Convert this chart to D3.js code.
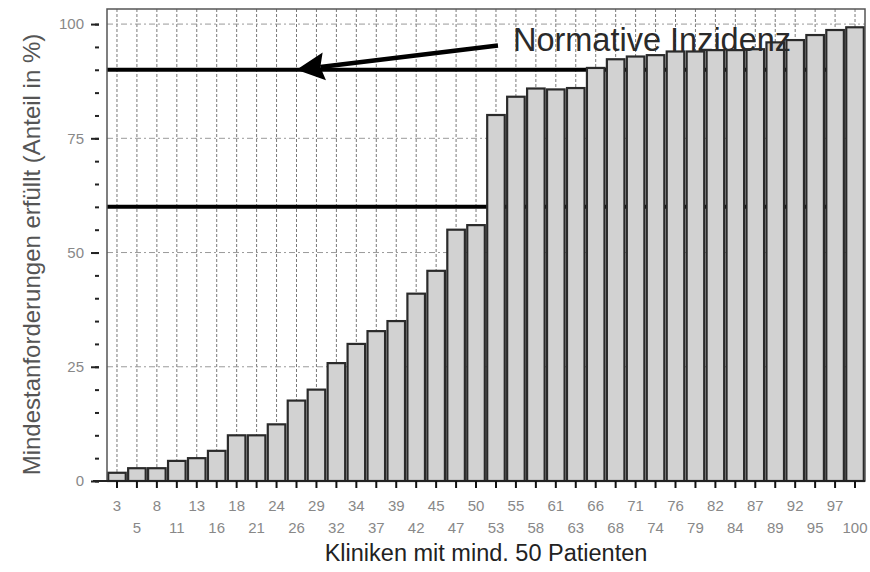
<!DOCTYPE html>
<html>
<head>
<meta charset="utf-8">
<script src="https://cdn.jsdelivr.net/npm/d3@7"></script>
<style>
  body { margin: 0; background: #fff; }
  svg { display: block; font-family: "Liberation Sans", Arial, sans-serif; }
</style>
</head>
<body>
<div id="chart"></div>
<script>
// Anteil der Kliniken, die die Mindestanforderungen erfuellen
let labels = ["3","5","8","11","13","16","18","21","24","26","29","32","34","37","39","42","45","47","50",
              "53","55","58","61","63","66","68","71","74","76","79","82","84","87","89","92","95","97","100"];
let values = [1.8, 2.8, 2.8, 4.4, 5.0, 6.6, 10, 10, 12.4, 17.6, 20, 25.8, 30, 32.8, 35, 41, 46, 55, 56,
              80.1, 84.1, 85.9, 85.7, 86, 90.4, 92.3, 92.9, 93.2, 94, 94, 94.3, 94.3, 94.5, 96, 96.5, 97.6, 98.7, 99.3];
let majorTicks = [0, 25, 50, 75, 100];
let minorTicks = d3.range(0, 101, 5);
let refLines = [90, 60];
let annotation = "Normative Inzidenz";

let width = 870, height = 572;
let margin = { top: 9, right: 5, bottom: 91, left: 107 };

let svg = d3.select("#chart").append("svg")
    .attr("width", width)
    .attr("height", height);

let x = d3.scaleBand()
    .domain(labels)
    .range([margin.left, width - margin.right])
    .paddingInner(0.12)
    .paddingOuter(0.06);

let y = d3.scaleLinear()
    .domain([0, 103.3])
    .range([height - margin.bottom, margin.top]);

let plotBottom = y(0);
let plotTop = y.range()[1];
let cx = function (l) { return x(l) + x.bandwidth() / 2; };

// gridlines
svg.append("g").selectAll()
    .data(labels)
    .enter()
    .append("line")
    .attr("x1", cx).attr("x2", cx)
    .attr("y1", plotTop).attr("y2", plotBottom)
    .style("stroke", "#7a7a7a")
    .style("stroke-width", 1)
    .style("stroke-dasharray", "3,2")
;
svg.append("g").selectAll()
    .data(majorTicks.slice(1))
    .enter()
    .append("line")
    .attr("x1", margin.left).attr("x2", width - margin.right)
    .attr("y1", d => y(d)).attr("y2", d => y(d))
    .style("stroke", "#9a9a9a")
    .style("stroke-width", 1)
    .style("stroke-dasharray", "6,3,2,3")
;

// reference lines (behind the bars)
let lineEnd = x(labels[36]);
svg.append("g").selectAll()
    .data(refLines)
    .enter()
    .append("line")
    .attr("x1", margin.left).attr("x2", lineEnd)
    .attr("y1", d => y(d)).attr("y2", d => y(d))
    .style("stroke", "#000")
    .style("stroke-width", 4)
;

// bars
svg.append("g").selectAll()
    .data(values)
    .enter()
    .append("rect")
    .attr("x", (d, i) => x(labels[i]))
    .attr("y", d => y(d))
    .attr("width", x.bandwidth())
    .attr("height", d => plotBottom - y(d))
    .style("fill", "#d2d2d2")
    .style("stroke", "#2a2a2a")
    .style("stroke-width", 2.2)
;

// frame
svg.append("rect")
    .attr("x", margin.left)
    .attr("y", plotTop)
    .attr("width", width - margin.right - margin.left)
    .attr("height", plotBottom - plotTop)
    .style("fill", "none")
    .style("stroke", "#555")
    .style("stroke-width", 1.5)
;
svg.append("line")
    .attr("x1", margin.left - 14).attr("x2", width - margin.right)
    .attr("y1", plotBottom).attr("y2", plotBottom)
    .style("stroke", "#222")
    .style("stroke-width", 2)
;

// y axis
let axisX = margin.left - 8;
let yMinor = svg.append("g")
    .attr("transform", "translate(" + axisX + ",0)")
    .call(d3.axisLeft(y).tickValues(minorTicks).tickSize(4).tickFormat(""));
let yMajor = svg.append("g")
    .attr("transform", "translate(" + axisX + ",0)")
    .call(d3.axisLeft(y).tickValues(majorTicks).tickSize(8).tickPadding(7));
[yMinor, yMajor].forEach(function (g) {
    g.select(".domain").remove();
    g.selectAll("line").style("stroke", "#222").style("stroke-width", 2);
});
yMajor.selectAll("text")
    .style("font-size", "15px")
    .style("fill", "#888")
    .style("font-family", "Liberation Sans, Arial, sans-serif");

// x axis, labels in two staggered rows
let xAxis = svg.append("g")
    .attr("transform", "translate(0," + plotBottom + ")")
    .call(d3.axisBottom(x).tickSize(7).tickPadding(4));
xAxis.select(".domain").remove();
xAxis.selectAll("line").style("stroke", "#111").style("stroke-width", 2);
xAxis.selectAll("text")
    .attr("y", (d, i) => i % 2 == 0 ? 19 : 41)
    .style("font-size", "15px")
    .style("fill", "#888")
    .style("font-family", "Liberation Sans, Arial, sans-serif");

// axis titles
svg.append("text")
    .attr("x", (margin.left + width - margin.right) / 2)
    .attr("y", 561)
    .attr("text-anchor", "middle")
    .style("font-size", "23.5px")
    .style("fill", "#222")
    .text("Kliniken mit mind. 50 Patienten");
svg.append("text")
    .attr("transform", "translate(40," + (y(50) + 2) + ") rotate(-90)")
    .attr("text-anchor", "middle")
    .style("font-size", "24px")
    .style("fill", "#555")
    .text("Mindestanforderungen erfüllt (Anteil in %)");

// annotation arrow
let tip = [cx(labels[9]), y(refLines[0])];
let tail = [cx(labels[19]) + 2, y(95.3)];
let ang = Math.atan2(tail[1] - tip[1], tail[0] - tip[0]);
let headLen = 28, headHalf = 14;
let base = [tip[0] + headLen * Math.cos(ang), tip[1] + headLen * Math.sin(ang)];
svg.append("line")
    .attr("x1", tail[0]).attr("y1", tail[1])
    .attr("x2", base[0] - 4 * Math.cos(ang)).attr("y2", base[1] - 4 * Math.sin(ang))
    .style("stroke", "#000")
    .style("stroke-width", 4.5)
;
let px = -Math.sin(ang), py = Math.cos(ang);
svg.append("path")
    .attr("d", "M" + tip[0] + "," + tip[1]
        + "L" + (base[0] + px * headHalf) + "," + (base[1] + py * headHalf)
        + "L" + (base[0] - 4 * Math.cos(ang)) + "," + (base[1] - 4 * Math.sin(ang))
        + "L" + (base[0] - px * headHalf) + "," + (base[1] - py * headHalf) + "Z")
    .style("fill", "#000")
;
svg.append("text")
    .attr("x", cx(labels[20]) - 3)
    .attr("y", y(94.2))
    .style("font-size", "32.5px")
    .style("fill", "#2a2a2a")
    .text(annotation);
</script>
</body>
</html>
